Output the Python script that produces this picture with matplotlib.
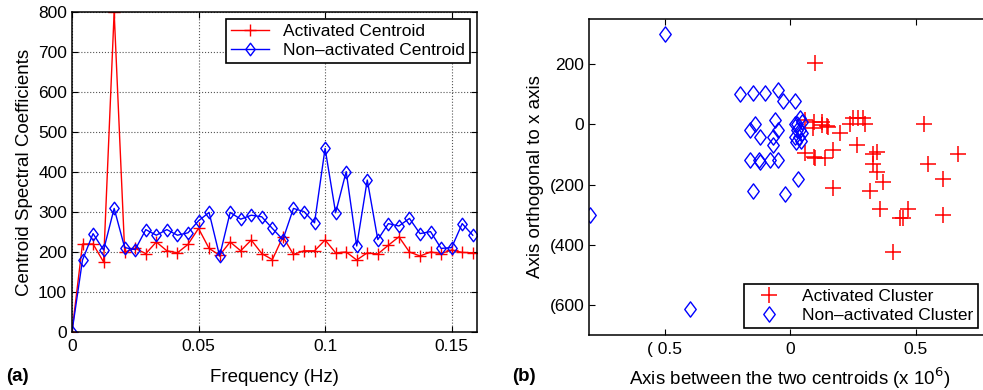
import numpy as np
import matplotlib.pyplot as plt
from matplotlib.path import Path

plt.rcParams['font.family'] = ['Liberation Sans', 'DejaVu Sans']

# panel (a): centroid spectra, one sample every 1/240 Hz
freq_step = 1 / 240
activated = [0, 220, 220, 175, 800, 200, 209, 196, 225, 203, 198, 219, 259, 209,
             192, 225, 203, 230, 196, 181, 238, 194, 203, 203, 230, 198, 200, 180,
             198, 195, 217, 238, 200, 190, 200, 196, 205, 199, 198]
non_activated = [0, 180, 246, 205, 309, 211, 206, 256, 242, 256, 242, 248, 278, 299,
                 190, 299, 282, 292, 288, 259, 231, 309, 301, 273, 459, 298, 401, 215,
                 380, 231, 271, 265, 284, 246, 251, 209, 211, 271, 242]
freqs = np.arange(len(activated)) * freq_step

# panel (b): projected points
act_x = [0.099, 0.060, 0.093, 0.090, 0.126, 0.126, 0.146, 0.152, 0.199, 0.239,
         0.249, 0.272, 0.289, 0.298, 0.268, 0.531, 0.060, 0.093, 0.099, 0.139,
         0.170, 0.170, 0.329, 0.347, 0.329, 0.347, 0.369, 0.318, 0.358, 0.438,
         0.448, 0.471, 0.409, 0.548, 0.608, 0.608, 0.667]
act_y = [203, 14, 9, -13, 9, -2, -6, -10, -28, 1,
         20, 20, 20, 3, -69, 0, -95, -108, -110, -110,
         -86, -210, -99, -91, -130, -158, -191, -221, -282, -311,
         -311, -282, -425, -130, -180, -302, -99]
non_x = [-0.500, -0.798, -0.398, -0.199, -0.150, -0.099, -0.049, -0.029, 0.020,
         -0.142, -0.159, -0.119, -0.060, -0.069, -0.047, -0.069,
         -0.159, -0.126, -0.119, -0.080, -0.049, -0.150, -0.020, 0.033,
         0.040, 0.029, 0.020, 0.040, 0.020, 0.037, 0.046, 0.024, 0.042, 0.046, 0.027]
non_y = [301, -302, -613, 101, 105, 103, 114, 79, 79,
         3, -19, -41, 14, -43, -19, -69,
         -119, -119, -125, -119, -119, -222, -230, -180,
         20, 3, 3, -19, -43, -41, -30, -58, -55, 9, -19]

diamond = Path([(-0.75, 0), (0, 1), (0.75, 0), (0, -1), (-0.75, 0)],
               [Path.MOVETO, Path.LINETO, Path.LINETO, Path.LINETO, Path.CLOSEPOLY])

fig = plt.figure(figsize=(9.83, 3.9), dpi=100)
fs = 12.5

# ---- (a)
ax1 = fig.add_axes([0.0732, 0.1487, 0.412, 0.8205])
ax1.plot(freqs, activated, color='red', marker='+', markersize=9, lw=1,
         label='Activated Centroid')
ax1.plot(freqs, non_activated, color='blue', marker=diamond, markersize=9, lw=1,
         markerfacecolor='none', markeredgewidth=1, label='Non\u2013activated Centroid')
ax1.set_xlim(0, 0.16)
ax1.set_ylim(0, 800)
ax1.set_xticks([0, 0.05, 0.1, 0.15])
ax1.set_xticklabels(['0', '0.05', '0.1', '0.15'])
ax1.set_yticks(range(0, 801, 100))
ax1.grid(True, linestyle=':', color='#555555', lw=0.8)
ax1.set_xlabel('Frequency (Hz)', fontsize=13.5, labelpad=11)
ax1.set_ylabel('Centroid Spectral Coefficients', fontsize=13.5, labelpad=4)
ax1.legend(loc='upper right', fontsize=fs, fancybox=False, edgecolor='black',
           framealpha=1, borderpad=0.3, labelspacing=0.2, handlelength=2.2,
           borderaxespad=0.4).get_frame().set_linewidth(1.2)

# ---- (b)
ax2 = fig.add_axes([0.5995, 0.141, 0.4087, 0.810])
ax2.plot(act_x, act_y, linestyle='none', marker='+', color='red', markersize=11,
         markeredgewidth=1.1, label='Activated Cluster')
ax2.plot(non_x, non_y, linestyle='none', marker=diamond, color='blue', markersize=11,
         markerfacecolor='none', markeredgewidth=1, label='Non\u2013activated Cluster')
ax2.set_xlim(-0.8, 0.8)
ax2.set_ylim(-700, 350)
ax2.set_xticks([-0.5, 0, 0.5])
ax2.set_xticklabels(['( 0.5', '0', '0.5'])
ax2.set_yticks([200, 0, -200, -400, -600])
ax2.set_yticklabels(['200', '0', '(200', '(400', '(600'])
ax2.set_xlabel('Axis between the two centroids (x 10$^6$)', fontsize=13.5, labelpad=6)
ax2.set_ylabel('Axis orthogonal to x axis', fontsize=13.5, labelpad=4)
ax2.legend(loc='lower right', fontsize=fs, fancybox=False, edgecolor='black',
           framealpha=1, borderpad=0.3, labelspacing=0.2, handlelength=2.2,
           borderaxespad=0.4, bbox_to_anchor=(0.985, 0.0)).get_frame().set_linewidth(1.2)

for ax in (ax1, ax2):
    ax.tick_params(direction='in', top=True, right=True, labelsize=fs, length=4)
    ax.tick_params(axis='x', pad=5)
    for sp in ax.spines.values():
        sp.set_linewidth(1.1)

fig.text(0.006, 0.022, '(a)', fontsize=13.5, fontweight='bold')
fig.text(0.521, 0.022, '(b)', fontsize=13.5, fontweight='bold')

fig.savefig('out.png', dpi=100)
